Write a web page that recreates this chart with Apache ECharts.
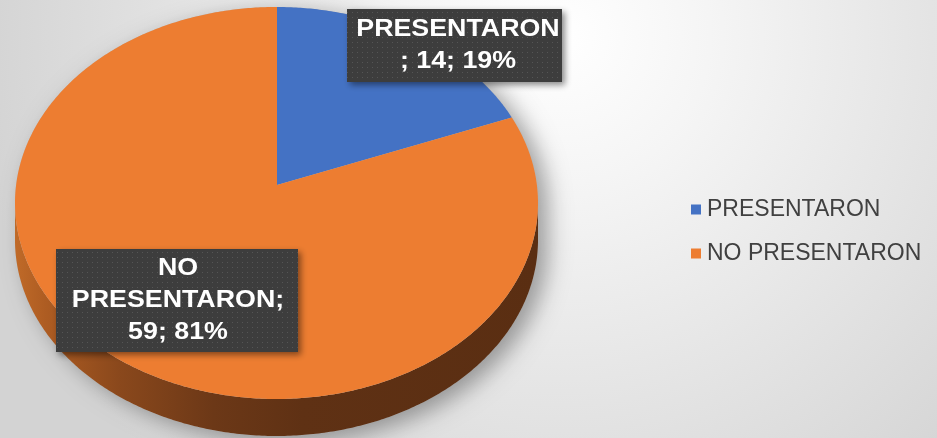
<!DOCTYPE html>
<html><head><meta charset="utf-8">
<script src="https://cdn.jsdelivr.net/npm/echarts@6/dist/echarts.min.js"></script>
<style>html,body{margin:0;padding:0;background:#fff}#c{width:937px;height:438px}</style>
</head><body><div id="c"></div>
<script>
// ---- data ----
const categories = ['PRESENTARON', 'NO PRESENTARON'];
const values = [14, 59];

// ---- styles / layout ----
const sliceColors = ['#4472C4', '#ED7D31'];
const G = {cx: 276.5, cy: 203, rx: 261.5, ry: 196, ax: 277, ay: 185, depth: 37};
const labelBoxes = [
  {x: 347, y: 9, w: 215, h: 73, tx: 458, ty: 46},
  {x: 56, y: 249, w: 242, h: 103, tx: 178, ty: 301}
];

const total = values.reduce((a, b) => a + b, 0);
const percents = values.map(v => Math.round(v / total * 100));
const starts = []; let acc = 0;
values.forEach(v => { starts.push(acc / total * 2 * Math.PI); acc += v; });
const ends = values.map((v, i) => starts[i] + v / total * 2 * Math.PI);

// ellipse point by parametric angle (clockwise from top)
function pt(t, dy) { return [G.cx + G.rx * Math.sin(t), G.cy - G.ry * Math.cos(t) + (dy || 0)]; }
// point where the ray from the (perspective-shifted) centre at slice angle t meets the rim
function rim(t) {
  const ox = (G.ax - G.cx) / G.rx, oy = (G.ay - G.cy) / G.ry;
  const dx = Math.sin(t), dy = -Math.cos(t);
  const B = 2 * (ox * dx + oy * dy), C = ox * ox + oy * oy - 1;
  const s = (-B + Math.sqrt(B * B - 4 * C)) / 2;
  return [G.cx + (ox + s * dx) * G.rx, G.cy + (oy + s * dy) * G.ry];
}
function samples(a, b, f) {
  const n = Math.max(2, Math.ceil(Math.abs(b - a) / 0.01)); const out = [];
  for (let k = 0; k <= n; k++) out.push(f(a + (b - a) * k / n));
  return out;
}
function labelText(i) {
  const tail = values[i] + '; ' + percents[i] + '%';
  return i === 0 ? categories[i] + '\n; ' + tail : categories[i].replace(' ', '\n') + ';\n' + tail;
}

const pc = document.createElement('canvas'); pc.width = 5; pc.height = 5;
const g = pc.getContext('2d');
g.fillStyle = '#3d3d3d'; g.fillRect(0, 0, 5, 5);
g.fillStyle = '#555555'; g.fillRect(2, 2, 1, 1);

const sideGrad = new echarts.graphic.LinearGradient(0, 0, 1, 0, [
  {offset: 0, color: '#c06a28'}, {offset: 0.06, color: '#ad5c22'},
  {offset: 0.2, color: '#8a481c'}, {offset: 0.38, color: '#6c3817'},
  {offset: 0.55, color: '#5f3114'}, {offset: 1, color: '#5a2e12'}
]);

function makeRender(i) {
  return function (params, api) {
    const children = [];
    const a = starts[i], b = ends[i];
    if (i === 0) {
      const sil = samples(-Math.PI / 2, Math.PI / 2, t => pt(t, 0))
        .concat(samples(Math.PI / 2, Math.PI * 1.5, t => pt(t, G.depth)));
      children.push({type: 'polygon', z2: 0, silent: true, shape: {points: sil},
        style: {fill: '#bbbbbb', shadowBlur: 22, shadowOffsetX: 10, shadowOffsetY: 6, shadowColor: 'rgba(0,0,0,0.35)'}});
    }
    const edge = samples(a, b, rim);
    const front = edge.filter(p => p[1] >= G.cy);
    if (front.length > 1) {
      const bot = front.map(p => [p[0], p[1] + G.depth]).reverse();
      children.push({type: 'polygon', z2: 1, shape: {points: front.concat(bot)}, style: {fill: sideGrad}});
    }
    children.push({type: 'polygon', z2: 2, shape: {points: [[G.ax, G.ay]].concat(edge)},
      style: {fill: sliceColors[i]}});
    const L = labelBoxes[i];
    children.push({type: 'rect', z2: 10, shape: {x: L.x, y: L.y, width: L.w, height: L.h},
      style: {fill: {image: pc, repeat: 'repeat'}, shadowBlur: 6, shadowOffsetX: 3, shadowOffsetY: 3, shadowColor: 'rgba(0,0,0,0.45)'}});
    children.push({type: 'text', z2: 11, x: L.tx, y: L.ty, scaleX: 1.14,
      style: {text: labelText(i), fill: '#ffffff', font: 'bold 23.5px "Liberation Sans", Arial, sans-serif',
        align: 'center', verticalAlign: 'middle', lineHeight: 32}});
    return {type: 'group', children: children};
  };
}

const chart = echarts.init(document.getElementById('c'), null, {renderer: 'canvas'});
chart.setOption({
  animation: false,
  graphic: [{type: 'rect', left: 0, top: 0, z: -10, silent: true, shape: {width: 937, height: 438},
    style: {fill: new echarts.graphic.RadialGradient(0.6, 0.08, 1.35, [
      {offset: 0, color: '#ffffff'}, {offset: 0.25, color: '#f5f5f5'}, {offset: 1, color: '#d3d3d3'}])}}],
  legend: {
    orient: 'vertical', left: 691, top: 198, padding: 0, itemWidth: 10, itemHeight: 10, itemGap: 21, icon: 'rect',
    textStyle: {fontFamily: '"Liberation Sans", Arial, sans-serif', fontSize: 23, color: '#404040', lineHeight: 22, padding: [0, 0, 0, 1]},
    data: categories, selectedMode: false
  },
  series: categories.map((name, i) => ({
    type: 'custom', name: name, coordinateSystem: 'none',
    itemStyle: {color: sliceColors[i]},
    data: [values[i]],
    renderItem: makeRender(i)
  }))
});
</script></body></html>
